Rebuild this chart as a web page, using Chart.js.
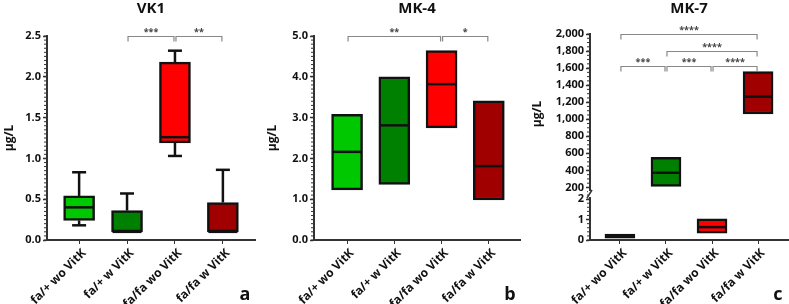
<!DOCTYPE html>
<html>
<head>
<meta charset="utf-8">
<script src="https://cdn.jsdelivr.net/npm/chart.js@4"></script>
<style>
html, body { margin: 0; padding: 0; background: #fff; }
#wrap { position: relative; width: 789px; height: 304px; overflow: hidden; }
.p { position: absolute; top: 0; height: 304px; }
</style>
</head>
<body>
<div id="wrap">
  <div class="p" style="left:0"><canvas id="c1" width="263" height="304"></canvas></div>
  <div class="p" style="left:263px"><canvas id="c2" width="265" height="304"></canvas></div>
  <div class="p" style="left:528px"><canvas id="c3" width="261" height="304"></canvas></div>
</div>
<script>
// groups and colours
const groups = ['fa/+ wo VitK', 'fa/+ w VitK', 'fa/fa wo VitK', 'fa/fa w VitK'];
const boxColors = ['rgb(0,200,0)', 'rgb(0,128,0)', 'rgb(255,0,0)', 'rgb(160,0,0)'];

// VK1 (a)
const vk1Min = [0.18, null, 1.03, null];
const vk1Q1 = [0.24, 0.10, 1.19, 0.10];
const vk1Med = [0.40, 0.10, 1.26, 0.10];
const vk1Q3 = [0.54, 0.36, 2.18, 0.46];
const vk1Max = [0.83, 0.57, 2.32, 0.86];
const vk1Ticks = [0, 0.5, 1.0, 1.5, 2.0, 2.5];
const vk1Sig = [[1, 2, 2.5, '***'], [2, 3, 2.5, '**']];

// MK-4 (b)
const mk4Q1 = [1.23, 1.36, 2.75, 0.98];
const mk4Med = [2.16, 2.81, 3.82, 1.81];
const mk4Q3 = [3.08, 4.00, 4.64, 3.41];
const mk4Ticks = [0, 1, 2, 3, 4, 5];
const mk4Sig = [[0, 2, 5, '**'], [2, 3, 5, '*']];

// MK-7 (c), broken axis
const mk7Q1 = [0.09, 212, 0.33, 1061];
const mk7Med = [0.19, 372, 0.63, 1265];
const mk7Q3 = [0.29, 552, 1.03, 1558];
const mk7Axis = ['yLow', 'yHigh', 'yLow', 'yHigh'];
const mk7TicksHigh = [200, 400, 600, 800, 1000, 1200, 1400, 1600, 1800, 2000];
const mk7TicksLow = [0, 1, 2];
const mk7Sig = [[0, 3, 2000, '****'], [1, 3, 1800, '****'], [0, 1, 1630, '***'], [1, 2, 1630, '***'], [2, 3, 1630, '****']];

const FONT = '"Open Sans"';
const yTickFont = { family: FONT, weight: 'bold', size: 11 };
const xTickFont = { family: FONT, weight: 'bold', size: 12 };

function yScale(o) {
  return {
    type: 'linear', position: 'left', min: o.min, max: o.max,
    stack: o.stack, stackWeight: o.stackWeight,
    afterBuildTicks: s => { s.ticks = o.ticks.map(v => ({ value: v })); },
    afterFit: s => { s.width = o.width; },
    ticks: { autoSkip: false, font: yTickFont, color: '#111', padding: 2, callback: v => o.fmt(v) },
    grid: { drawOnChartArea: false, tickLength: 4, tickWidth: 1.5, color: '#333' },
    border: { display: true, width: 2, color: '#333' },
    title: { display: !!o.title, text: 'µg/L', color: '#111', font: { family: FONT, weight: 'bold', size: 12 }, padding: { top: 2, bottom: 0 } }
  };
}

function makePanel(id, spec) {
  const axes = [...new Set(spec.boxes.map(b => b.axis))];
  const datasets = axes.map(ax => {
    const bs = spec.boxes.filter(b => b.axis === ax);
    return {
      yAxisID: ax,
      data: bs.map(b => ({ x: b.x, y: [b.q1, b.q3] })),
      backgroundColor: bs.map(b => b.color),
      borderColor: '#111',
      borderWidth: 2.5,
      borderSkipped: false,
      barThickness: spec.barW,
      grouped: false
    };
  });

  const scales = {
    x: {
      type: 'linear', min: spec.xMin, max: spec.xMax, offset: false,
      afterBuildTicks: s => { s.ticks = groups.map((g, i) => ({ value: i })); },
      afterFit: s => { s.height = 64; },
      ticks: { autoSkip: false, minRotation: 45, maxRotation: 45, labelOffset: 5, font: xTickFont, color: '#111', padding: 2, callback: v => groups[v] },
      grid: { offset: false, drawOnChartArea: false, tickLength: 4, color: '#333' },
      border: { width: 2, color: '#333' }
    }
  };
  spec.y.forEach(o => { scales[o.id] = yScale(o); });

  const boxPlugin = {
    id: 'boxextras',
    afterDatasetsDraw(chart) {
      const ctx = chart.ctx;
      const xs = chart.scales.x;
      const ca = chart.chartArea;
      ctx.save();
      // medians and whiskers
      ctx.strokeStyle = '#111';
      ctx.lineWidth = 2.5;
      spec.boxes.forEach(b => {
        const ys = chart.scales[b.axis];
        const cx = xs.getPixelForValue(b.x);
        const h = spec.barW / 2 - 1;
        const line = (x1, y1, x2, y2) => { ctx.beginPath(); ctx.moveTo(x1, y1); ctx.lineTo(x2, y2); ctx.stroke(); };
        const my = ys.getPixelForValue(b.med);
        line(cx - h, my, cx + h, my);
        if (b.hi != null) {
          const t = ys.getPixelForValue(b.hi);
          line(cx, ys.getPixelForValue(b.q3), cx, t);
          line(cx - 7, t, cx + 7, t);
        }
        if (b.lo != null) {
          const t = ys.getPixelForValue(b.lo);
          line(cx, ys.getPixelForValue(b.q1), cx, t);
          line(cx - 7, t, cx + 7, t);
        }
      });
      // minor ticks
      ctx.strokeStyle = '#333';
      ctx.lineWidth = 1;
      spec.y.forEach(o => {
        const ys = chart.scales[o.id];
        const start = Math.ceil(o.min / o.minor);
        const end = Math.floor(o.max / o.minor);
        for (let k = start; k <= end; k++) {
          const py = ys.getPixelForValue(k * o.minor);
          ctx.beginPath();
          ctx.moveTo(ca.left - 3, py);
          ctx.lineTo(ca.left, py);
          ctx.stroke();
        }
      });
      // axis break
      if (spec.breakBetween) {
        const yb = chart.scales[spec.breakBetween].bottom;
        ctx.fillStyle = '#fff';
        ctx.fillRect(ca.left - 2, yb - 3, 4, 6);
        ctx.strokeStyle = '#333';
        ctx.lineWidth = 1.5;
        ctx.beginPath();
        ctx.moveTo(ca.left - 3, yb + 4);
        ctx.lineTo(ca.left + 2, yb - 4);
        ctx.stroke();
      }
      // significance brackets
      const sy = chart.scales[spec.sigAxis];
      ctx.strokeStyle = '#888';
      ctx.lineWidth = 1.2;
      ctx.fillStyle = '#444';
      ctx.font = 'bold 9px ' + FONT;
      ctx.textAlign = 'center';
      ctx.textBaseline = 'bottom';
      spec.sig.forEach(([a, b, lvl, txt]) => {
        const x1 = xs.getPixelForValue(a) + 1;
        const x2 = xs.getPixelForValue(b) - 1;
        const py = Math.round(sy.getPixelForValue(lvl)) + 0.5;
        ctx.beginPath();
        ctx.moveTo(x1, py + 5);
        ctx.lineTo(x1, py);
        ctx.lineTo(x2, py);
        ctx.lineTo(x2, py + 5);
        ctx.stroke();
        ctx.fillText(txt, (x1 + x2) / 2, py);
      });
      // title and panel letter
      ctx.fillStyle = '#111';
      ctx.textBaseline = 'middle';
      ctx.font = 'bold 15px ' + FONT;
      ctx.fillText(spec.title, (ca.left + ca.right) / 2, 9);
      ctx.font = 'bold 18px ' + FONT;
      ctx.fillText(spec.letter, ca.right - 10, 295);
      ctx.restore();
    }
  };

  new Chart(document.getElementById(id), {
    type: 'bar',
    data: { datasets },
    options: {
      responsive: false,
      animation: false,
      layout: { padding: spec.pad },
      plugins: { legend: { display: false }, tooltip: { enabled: false }, title: { display: false } },
      scales
    },
    plugins: [boxPlugin]
  });
}

function boxesFrom(q1, med, q3, lo, hi, axis) {
  return groups.map((g, i) => ({
    x: i, q1: q1[i], med: med[i], q3: q3[i],
    lo: lo ? lo[i] : null, hi: hi ? hi[i] : null,
    axis: axis ? axis[i] : 'y', color: boxColors[i]
  }));
}

makePanel('c1', {
  title: 'VK1', letter: 'a', xMin: -0.67, xMax: 3.67, barW: 31,
  pad: { top: 36, left: 0, right: 8, bottom: 0 },
  y: [{ id: 'y', min: 0, max: 2.5, ticks: vk1Ticks, fmt: v => v.toFixed(1), minor: 0.05, width: 47, title: true }],
  boxes: boxesFrom(vk1Q1, vk1Med, vk1Q3, vk1Min, vk1Max),
  sig: vk1Sig, sigAxis: 'y'
});

makePanel('c2', {
  title: 'MK-4', letter: 'b', xMin: -0.7, xMax: 3.66, barW: 31,
  pad: { top: 36, left: 0, right: 8, bottom: 0 },
  y: [{ id: 'y', min: 0, max: 5, ticks: mk4Ticks, fmt: v => v.toFixed(1), minor: 0.1, width: 51, title: true }],
  boxes: boxesFrom(mk4Q1, mk4Med, mk4Q3, null, null),
  sig: mk4Sig, sigAxis: 'y'
});

// left stacked axes are laid out last-defined on top, so the low segment comes first
makePanel('c3', {
  title: 'MK-7', letter: 'c', xMin: -0.65, xMax: 3.65, barW: 30,
  pad: { top: 34, left: 0, right: 1, bottom: 0 },
  y: [
    { id: 'yLow', min: 0, max: 2.25, ticks: mk7TicksLow, fmt: v => String(v), minor: 0.2, width: 62, title: false, stack: 'mk7', stackWeight: 46 },
    { id: 'yHigh', min: 123, max: 2000, ticks: mk7TicksHigh, fmt: v => v.toLocaleString('en-US'), minor: 50, width: 62, title: true, stack: 'mk7', stackWeight: 160 }
  ],
  boxes: boxesFrom(mk7Q1, mk7Med, mk7Q3, null, null, mk7Axis),
  sig: mk7Sig, sigAxis: 'yHigh', breakBetween: 'yHigh'
});
</script>
</body>
</html>
